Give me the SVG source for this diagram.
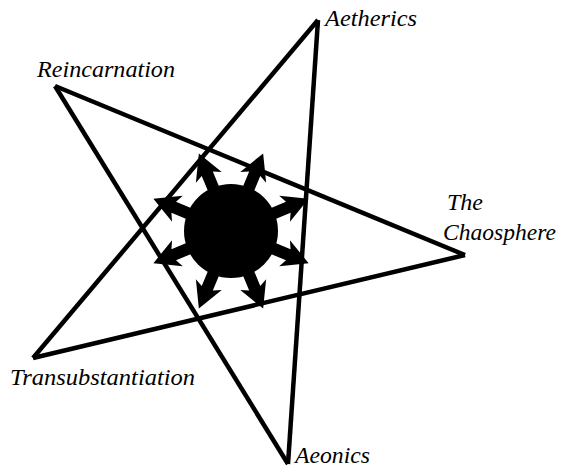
<svg xmlns="http://www.w3.org/2000/svg" width="561" height="469" viewBox="0 0 561 469">
<style>
.edge{fill:none;stroke:#000;stroke-width:4.5;stroke-linejoin:miter}
.lbl{font-family:"Liberation Serif",serif;font-style:italic;font-size:23px;fill:#000}
</style>
<defs>
<polygon id="arrow" points="0,-84 14,-58 6,-62 6,-40 -6,-40 -6,-62 -14,-58"/>
</defs>
<rect width="561" height="469" fill="#fff"/>
<g id="connectors">
<line class="edge" x1="318" y1="20" x2="33" y2="358"/>
<line class="edge" x1="318" y1="20" x2="288" y2="464"/>
<line class="edge" x1="55" y1="86" x2="465" y2="255"/>
<line class="edge" x1="55" y1="86" x2="288" y2="464"/>
<line class="edge" x1="33" y1="358" x2="465" y2="255"/>
</g>
<g id="chaosphere-symbol" transform="translate(231,231)">
<circle r="47" fill="#000"/>
<use href="#arrow" transform="rotate(-22.5)"/>
<use href="#arrow" transform="rotate(22.5)"/>
<use href="#arrow" transform="rotate(67.5)"/>
<use href="#arrow" transform="rotate(112.5)"/>
<use href="#arrow" transform="rotate(157.5)"/>
<use href="#arrow" transform="rotate(202.5)"/>
<use href="#arrow" transform="rotate(247.5)"/>
<use href="#arrow" transform="rotate(292.5)"/>
</g>
<g id="node-aetherics"><text class="lbl" x="325" y="26" textLength="92" lengthAdjust="spacingAndGlyphs">Aetherics</text></g>
<g id="node-reincarnation"><text class="lbl" x="37" y="77" textLength="138" lengthAdjust="spacingAndGlyphs">Reincarnation</text></g>
<g id="node-chaosphere"><text class="lbl" x="447" y="210" textLength="36" lengthAdjust="spacingAndGlyphs">The</text><text class="lbl" x="443" y="240" textLength="113" lengthAdjust="spacingAndGlyphs">Chaosphere</text></g>
<g id="node-transubstantiation"><text class="lbl" x="10" y="385" textLength="185" lengthAdjust="spacingAndGlyphs">Transubstantiation</text></g>
<g id="node-aeonics"><text class="lbl" x="295" y="463" textLength="75" lengthAdjust="spacingAndGlyphs">Aeonics</text></g>
</svg>
